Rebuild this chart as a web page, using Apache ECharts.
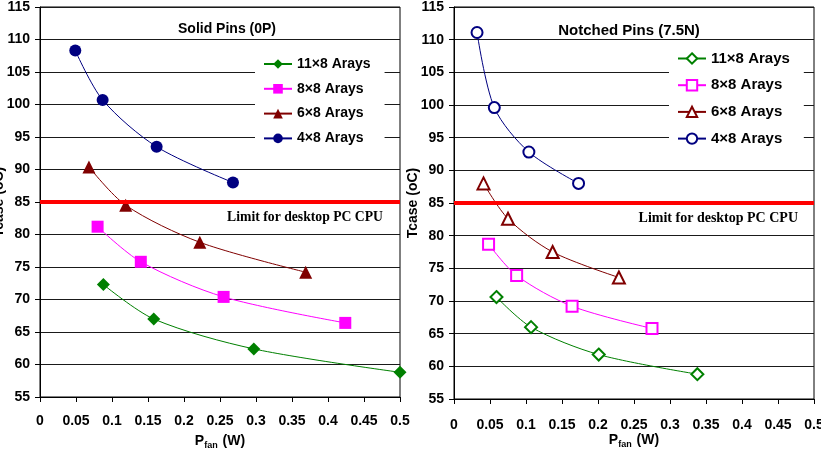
<!DOCTYPE html>
<html>
<head>
<meta charset="utf-8">
<script src="https://cdn.jsdelivr.net/npm/echarts@6/dist/echarts.min.js"></script>
<style>
  html, body { margin: 0; padding: 0; background: #fff; }
  #chart { width: 821px; height: 464px; }
</style>
</head>
<body>
<div id="chart"></div>
<script>
// series labels (same for both panels)
const arrayNames = ["11×8 Arays", "8×8 Arays", "6×8 Arays", "4×8 Arays"];
const colors = ["#008000", "#ff00ff", "#800000", "#000080"];

// Solid Pins (0P): [Pfan (W), Tcase (oC)]
const solid11x8 = [[0.088, 72.3], [0.158, 67.0], [0.297, 62.4], [0.500, 58.8]];
const solid8x8 = [[0.080, 81.2], [0.140, 75.8], [0.255, 70.4], [0.424, 66.4]];
const solid6x8 = [[0.068, 90.4], [0.119, 84.5], [0.222, 78.8], [0.369, 74.2]];
const solid4x8 = [[0.049, 108.3], [0.087, 100.7], [0.162, 93.5], [0.268, 88.0]];

// Notched Pins (7.5N)
const notched11x8 = [[0.059, 70.6], [0.107, 66.0], [0.201, 61.8], [0.338, 58.8]];
const notched8x8 = [[0.048, 78.7], [0.087, 73.9], [0.164, 69.2], [0.275, 65.8]];
const notched6x8 = [[0.041, 88.0], [0.075, 82.6], [0.137, 77.5], [0.229, 73.6]];
const notched4x8 = [[0.032, 111.1], [0.056, 99.6], [0.104, 92.8], [0.173, 88.0]];

const xTicks = { min: 0, max: 0.5, interval: 0.05 };
const yTicks = { min: 55, max: 115, interval: 5 };
const cpuLimit = 85;

const solidData = [solid11x8, solid8x8, solid6x8, solid4x8];
const notchedData = [notched11x8, notched8x8, notched6x8, notched4x8];
const solidSymbols = ["diamond", "rect", "triangle", "circle"];
const solidSizes = [13, 12, 13, 12];
const notchedSymbols = ["emptyDiamond", "emptyRect", "emptyTriangle", "emptyCircle"];
const notchedSizes = [12, 11, 12, 11];

const font = "Liberation Sans, Arial, sans-serif";

function xAxis(gridIndex, nameGap, margin) {
    return {
        type: "value",
        gridIndex: gridIndex,
        min: xTicks.min,
        max: xTicks.max,
        interval: xTicks.interval,
        name: "{p|P}{s|fan}{p| (W)}",
        nameLocation: "middle",
        nameGap: nameGap,
        nameMoveOverlap: false,
        nameTextStyle: {
            rich: {
                p: { fontSize: 14, fontWeight: "bold", fontFamily: font, color: "#000" },
                s: { fontSize: 9, fontWeight: "bold", fontFamily: font, color: "#000", padding: [9, 1, 0, 0] },
            },
        },
        axisLine: { lineStyle: { color: "#000", width: 1 } },
        axisTick: { length: 5, lineStyle: { color: "#000" } },
        axisLabel: { margin: margin, fontSize: 14, fontWeight: "bold", fontFamily: font, color: "#000" },
        splitLine: { show: false },
    };
}

function yAxis(gridIndex, nameGap) {
    return {
        type: "value",
        gridIndex: gridIndex,
        min: yTicks.min,
        max: yTicks.max,
        interval: yTicks.interval,
        name: "Tcase (oC)",
        nameLocation: "middle",
        nameGap: nameGap,
        nameMoveOverlap: false,
        nameTextStyle: { fontSize: 14, fontWeight: "bold", fontFamily: font, color: "#000" },
        axisLine: { show: true, lineStyle: { color: "#000", width: 1 } },
        axisTick: { show: true, length: 5, lineStyle: { color: "#000" } },
        axisLabel: { margin: 10, fontSize: 14, fontWeight: "bold", fontFamily: font, color: "#000" },
        splitLine: { show: true, lineStyle: { color: "#1a1a1a", width: 1 } },
    };
}

function limitLine(distance, size) {
    return {
        silent: true,
        symbol: ["none", "none"],
        lineStyle: { color: "#ff0000", width: 4, type: "solid" },
        label: {
            show: true,
            position: "insideEndBottom",
            distance: distance,
            formatter: "Limit for desktop PC CPU",
            fontFamily: "Liberation Serif, Times New Roman, serif",
            fontWeight: "bold",
            fontSize: size,
            color: "#000",
        },
        data: [{ yAxis: cpuLimit }],
    };
}

let series = [];
arrayNames.forEach((n, i) => {
    series.push({
        name: n + " (0P)",
        type: "line",
        xAxisIndex: 0,
        yAxisIndex: 0,
        smooth: 0.3,
        symbol: solidSymbols[i],
        symbolSize: solidSizes[i],
        color: colors[i],
        lineStyle: { width: 1, color: colors[i] },
        itemStyle: { color: colors[i] },
        data: solidData[i],
        markLine: i === 0 ? limitLine([17, 8], 13.7) : undefined,
    });
});
arrayNames.forEach((n, i) => {
    series.push({
        name: n + " (7.5N)",
        type: "line",
        xAxisIndex: 1,
        yAxisIndex: 1,
        smooth: 0.3,
        symbol: notchedSymbols[i],
        symbolSize: notchedSizes[i],
        color: colors[i],
        lineStyle: { width: 1, color: colors[i] },
        itemStyle: { color: colors[i], borderWidth: 1.1 },
        data: notchedData[i],
        markLine: i === 0 ? limitLine([16, 8], 14) : undefined,
    });
});

let chart = echarts.init(document.getElementById("chart"));
let option = {
    animation: false,
    backgroundColor: "#fff",
    textStyle: { fontFamily: font },
    title: [
        {
            text: "Solid Pins (0P)",
            left: 222,
            top: 17,
            textAlign: "center",
            textStyle: { fontSize: 14, fontWeight: "bold", fontFamily: font, color: "#000" },
        },
        {
            text: "Notched Pins (7.5N)",
            left: 624,
            top: 18,
            textAlign: "center",
            textStyle: { fontSize: 15, fontWeight: "bold", fontFamily: font, color: "#000" },
        },
    ],
    legend: [
        {
            data: arrayNames.map((n) => n + " (0P)"),
            formatter: (name) => name.replace(" (0P)", ""),
            orient: "vertical",
            left: 255,
            top: 49,
            padding: [8, 14, 8, 8],
            backgroundColor: "#fff",
            itemWidth: 28,
            itemHeight: 12,
            itemGap: 10.8,
            selectedMode: false,
            textStyle: { fontSize: 14, fontWeight: "bold", fontFamily: font, color: "#000" },
        },
        {
            data: arrayNames.map((n) => n + " (7.5N)"),
            formatter: (name) => name.replace(" (7.5N)", ""),
            orient: "vertical",
            left: 669,
            top: 43,
            padding: [8, 14, 8, 8],
            backgroundColor: "#fff",
            itemWidth: 28,
            itemHeight: 13,
            itemGap: 11.7,
            selectedMode: false,
            textStyle: { fontSize: 15, fontWeight: "bold", fontFamily: font, color: "#000" },
        },
    ],
    grid: [
        { left: 40, right: 421, top: 7, bottom: 67, outerBoundsMode: "none", show: true, borderColor: "#000", borderWidth: 1 },
        { left: 454, right: 7, top: 7, bottom: 65, outerBoundsMode: "none", show: true, borderColor: "#000", borderWidth: 1 },
    ],
    xAxis: [xAxis(0, 35, 17), xAxis(1, 32, 19)],
    yAxis: [yAxis(0, 34), yAxis(1, 34)],
    series: series,
};
chart.setOption(option);
</script>
</body>
</html>
